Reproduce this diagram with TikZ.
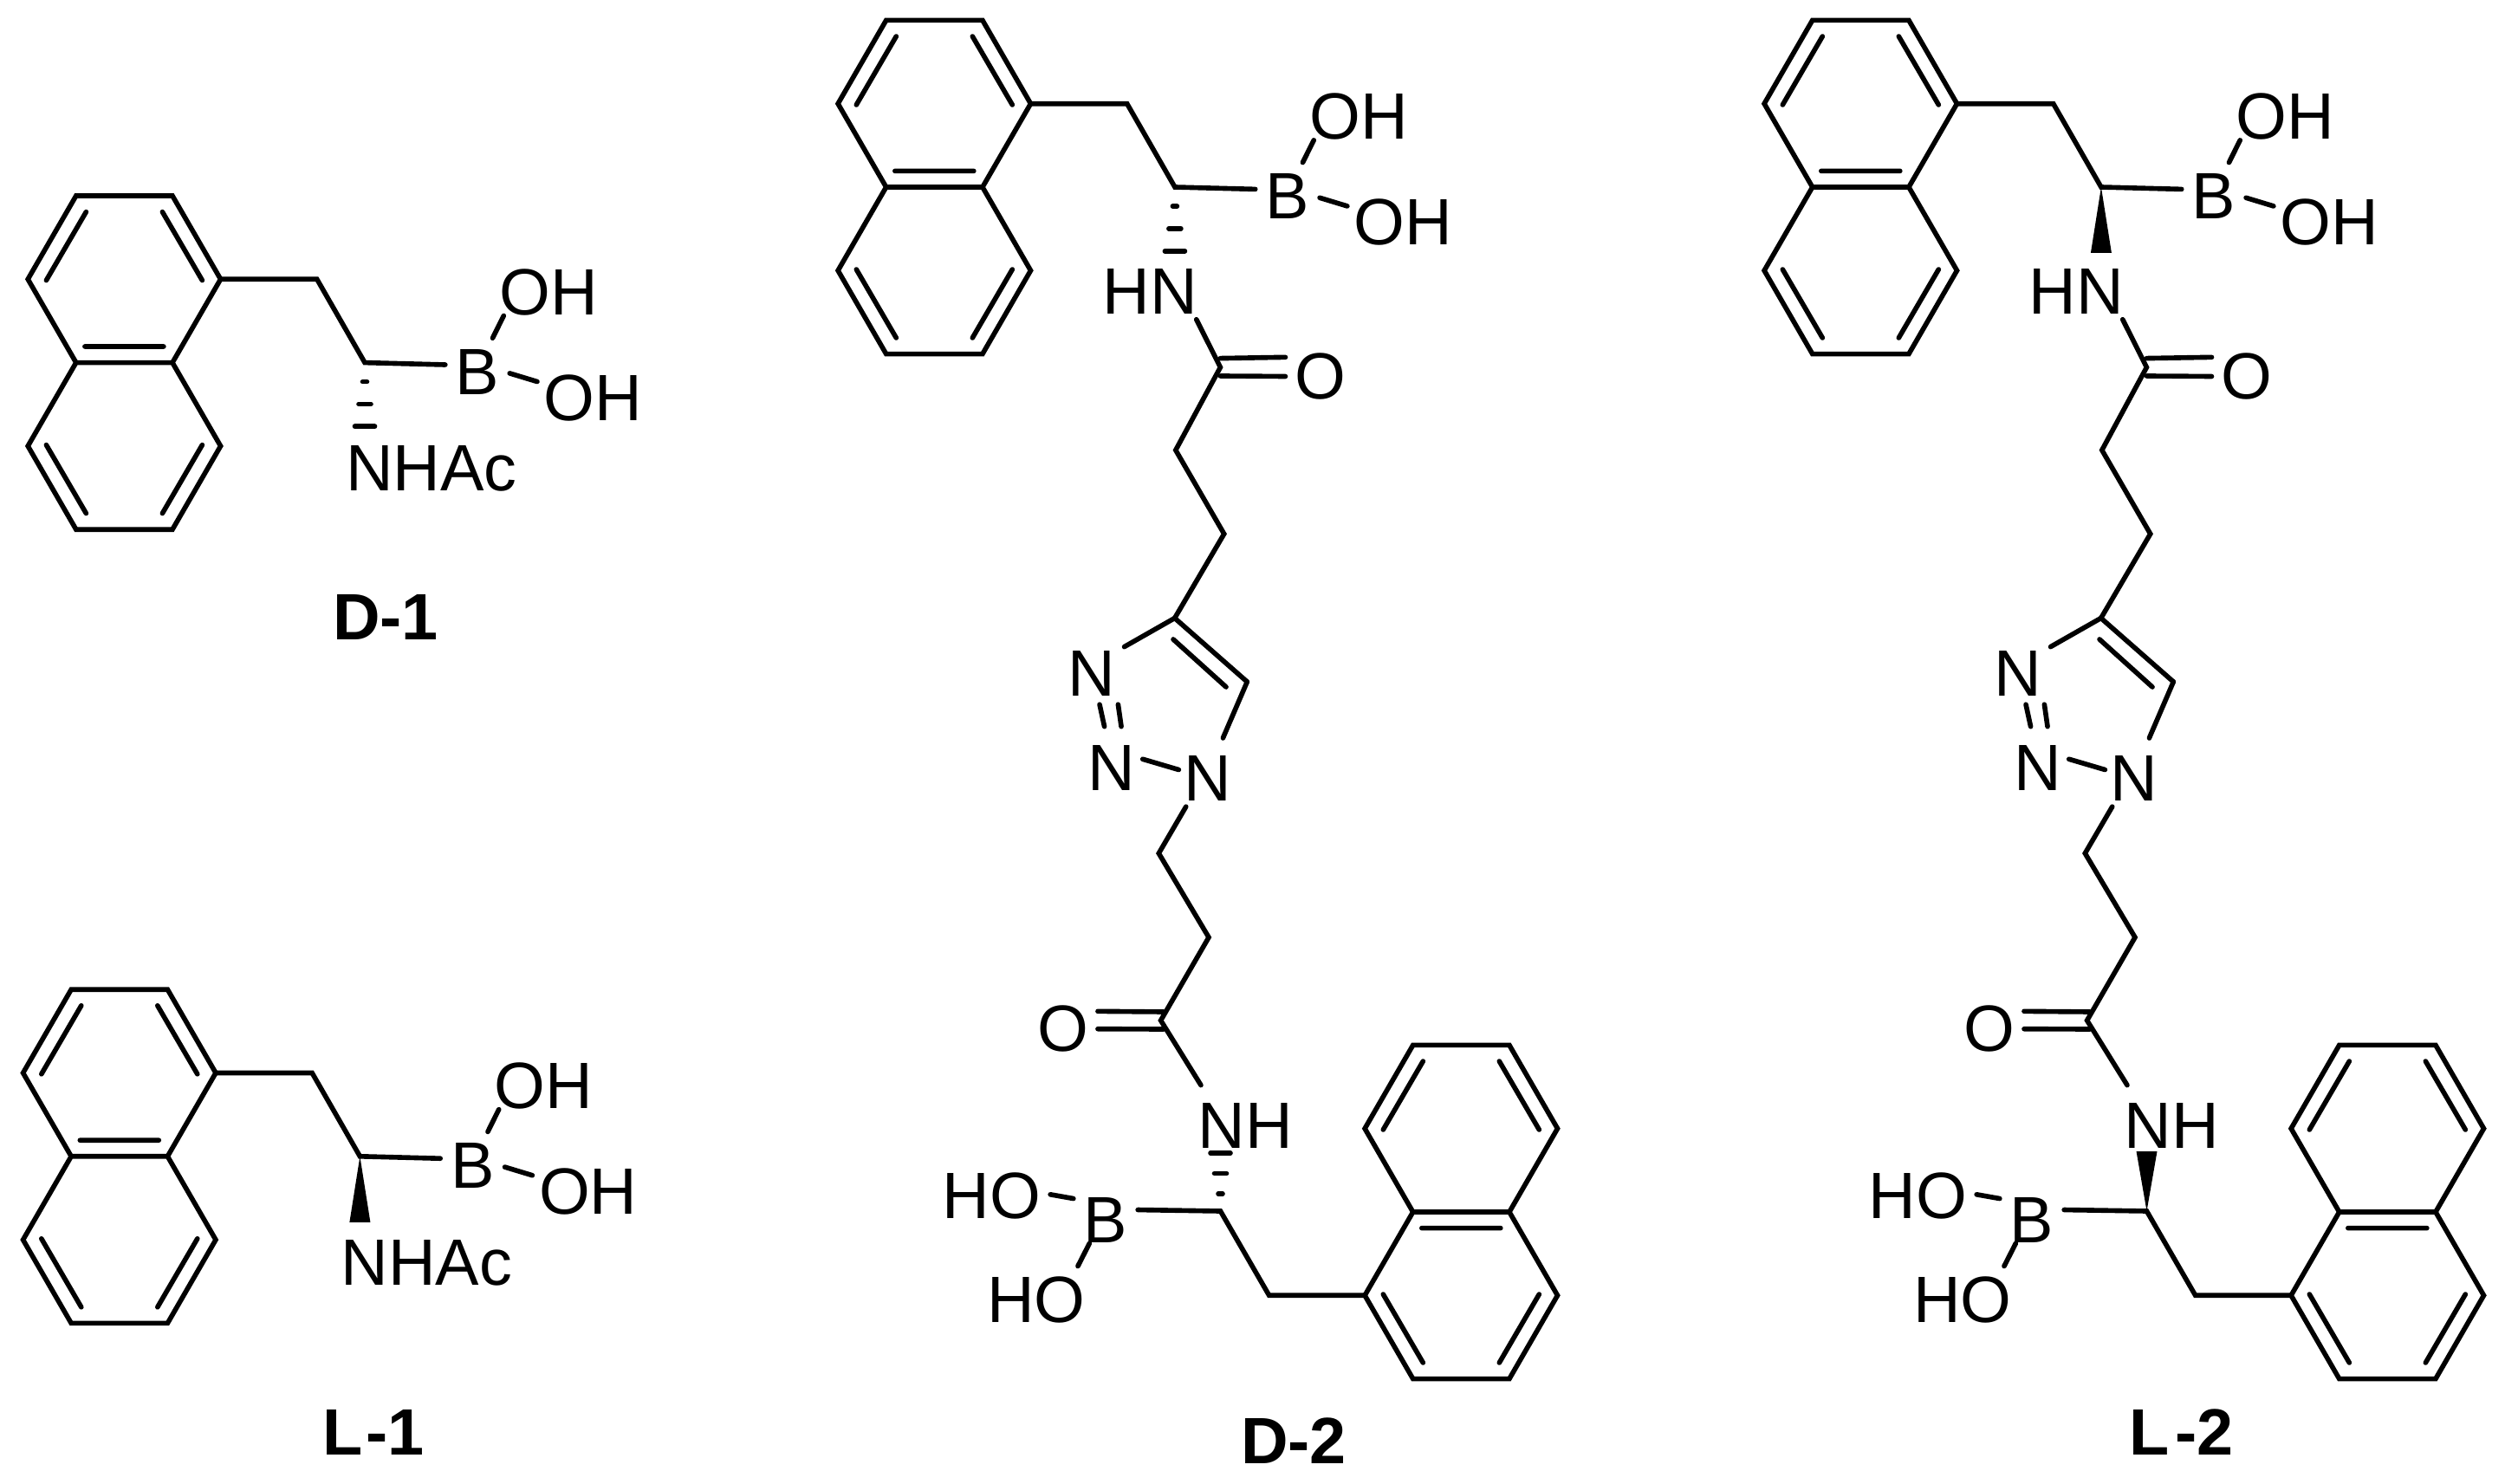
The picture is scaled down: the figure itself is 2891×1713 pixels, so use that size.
\documentclass[tikz,border=0pt]{standalone}
\usepackage{fontspec}
\setmainfont{Liberation Sans}
\usetikzlibrary{positioning}
\tikzset{
	every node/.style = {font=\fontsize{21.5}{25}\selectfont, inner sep=0},
	bond/.style = {line width=1.6pt, line cap=round, line join=miter},
	compound/.style = {font=\fontsize{21.5}{25}\selectfont\bfseries, anchor=base}
}
\newcommand{\naphth}[4]{
	\begin{scope}[shift={(#2,#3)},rotate=#4]
		\coordinate (#1a) at (-55.6,0);
		\coordinate (#1b) at (-111.2,-96.3);
		\coordinate (#1c) at (-55.6,-192.6);
		\coordinate (#1d) at (55.6,-192.6);
		\coordinate (#1e) at (111.2,-96.3);
		\coordinate (#1f) at (55.6,0);
		\coordinate (#1g) at (111.2,96.3);
		\coordinate (#1h) at (55.6,192.6);
		\coordinate (#1i) at (-55.6,192.6);
		\coordinate (#1j) at (-111.2,96.3);
		\draw[bond] (#1a) -- (#1b) -- (#1c) -- (#1d) -- (#1e) -- (#1f) -- (#1g) -- (#1h) -- (#1i) -- (#1j) -- cycle (#1a) -- (#1f);
		\draw[bond] (-44,-174) -- (-90,-95) (44,-174) -- (90,-95) (-45.5,-18.6) -- (45.5,-18.6)
			(-44,174) -- (-90,95) (44,174) -- (90,95);
	\end{scope}
}
\newcommand{\hashbond}[3]{
	\draw[bond] ({#1-2.5},{#2+.29*#3}) -- ({#1+2.5},{#2+.29*#3});
	\draw[bond] ({#1-7},{#2+.63*#3}) -- ({#1+7},{#2+.63*#3});
	\draw[bond] ({#1-11.5},{#2+.97*#3}) -- ({#1+11.5},{#2+.97*#3});
}
\newcommand{\wedgebond}[3]{
	\fill (#1,#2) -- ({#1-12},{#2+#3}) -- ({#1+12},{#2+#3}) -- cycle;
}
\newcommand{\headgroup}[2]{
	\naphth{#1r}{0}{0}{0}
	\coordinate (#1ca) at (222.4,-96.3);
	\coordinate (#1cb) at (277.6,0);
	\node[inner xsep=3.2pt, inner ysep=3.6pt] (#1b) at (407.6,11) {B};
	\node (#1oa) at (489.6,-81.6) {OH};
	\node[inner sep=2pt] (#1ob) at (541,40.4) {OH};
	\draw[bond] (#1re) -- (#1ca) -- (#1cb) -- (#1b.167);
	\draw[bond] (#1b.66) -- (#1oa.208);
	\draw[bond] (#1b.-2) -- (#1ob.164);
	#2{277.6}{0}{76}
}
\newcommand{\monomer}[4]{
	\begin{scope}[shift={(#2,#3)}]
		\headgroup{#1}{#4}
		\node[anchor=base west] (#1n) at (255,148.4) {NHAc};
	\end{scope}
}
\newcommand{\dimer}[3]{
	\begin{scope}[shift={(#2,0)}]
		\begin{scope}[shift={(1078.3,216)}]
			\headgroup{#1}{#3}
			\node[inner sep=1.5pt] (#1hn) at (249.2,120.8) {HN};
		\end{scope}
		\coordinate (#1cc) at (1408.4,424);
		\coordinate (#1da) at (1408.4,413.6);
		\coordinate (#1db) at (1408.4,434);
		\node[inner sep=2.8pt] (#1oc) at (1523.4,434.5) {O};
		\coordinate (#1cd) at (1356.8,519.6);
		\coordinate (#1ce) at (1412.7,616.3);
		\coordinate (#1cf) at (1355.7,713.5);
		\coordinate (#1cg) at (1439.3,787);
		\coordinate (#1ea) at (1354,738);
		\coordinate (#1eb) at (1415,793);
		\node[inner sep=2.7pt] (#1nc) at (1260,777) {N};
		\node[inner xsep=2.2pt, inner ysep=6pt] (#1nb) at (1283,886.5) {N};
		\node[inner sep=1.6pt] (#1na) at (1394,898.8) {N};
		\coordinate (#1ch) at (1337.3,985);
		\coordinate (#1ci) at (1395,1082);
		\coordinate (#1cj) at (1339.6,1177.9);
		\coordinate (#1fa) at (1343,1168);
		\coordinate (#1fb) at (1343,1188);
		\node[inner sep=2.8pt] (#1od) at (1227,1187.7) {O};
		\node[inner sep=5.6pt] (#1nh) at (1437.5,1299) {NH};
		\coordinate (#1ck) at (1408.5,1398);
		\coordinate (#1cl) at (1464.6,1495.2);
		\node[inner xsep=3.2pt, inner ysep=0pt] (#1bu) at (1276,1408.6) {B};
		\node[inner sep=3pt] (#1hoa) at (1144.2,1380) {HO};
		\node[inner sep=3.3pt] (#1hob) at (1195.7,1500.6) {HO};
		\naphth{#1u}{1686.3}{1399}{180}

		\draw[bond] (#1hn.-31.8) -- (#1cc) -- (#1cd) -- (#1ce) -- (#1cf) -- (#1cg);
		\draw[bond] (#1da) -- (#1oc.151.5);
		\draw[bond] (#1db) -- (#1oc.180);
		\draw[bond] (#1ea) -- (#1eb);
		\draw[bond] (#1cf) -- (#1nc.39.5);
		\draw[bond, shorten >=4.5pt] (#1cg) -- (#1na.71);
		\draw[bond] (#1nc.-76) -- (#1nb.100.7);
		\draw[bond] (#1nc.-50.5) -- (#1nb.77);
		\draw[bond] (#1nb.16.6) -- (#1na.163.8);
		\draw[bond] (#1na.232.5) -- (#1ch) -- (#1ci) -- (#1cj) -- (#1nh.138.1);
		\draw[bond] (#1fa) -- (#1od.27);
		\draw[bond] (#1fb) -- (#1od.0);
		\draw[bond] (#1ue) -- (#1cl) -- (#1ck) -- (#1bu.18);
		\draw[bond] (#1bu.146) -- (#1hoa.1.7);
		\draw[bond] (#1bu.235) -- (#1hob.39.7);
		#3{1408.5}{1398}{-69}
	\end{scope}
}
\begin{document}
\begin{tikzpicture}[x=0.01cm, y=-0.01cm]
	\useasboundingbox (0,0) rectangle (2891,1713);
	\monomer{dm}{143.4}{418.6}{\hashbond}
	\monomer{lm}{137.8}{1334.8}{\wedgebond}
	\dimer{dd}{0}{\hashbond}
	\dimer{ld}{1069}{\wedgebond}
	\node[compound] (dmname) at (445,739) {D-1};
	\node[compound] (lmname) at (431,1679) {L\kern.06em-1};
	\node[compound] (ddname) at (1493,1689) {D-2};
	\node[compound] (ldname) at (2517.5,1679) {L\kern.08em-2};
\end{tikzpicture}
\end{document}
